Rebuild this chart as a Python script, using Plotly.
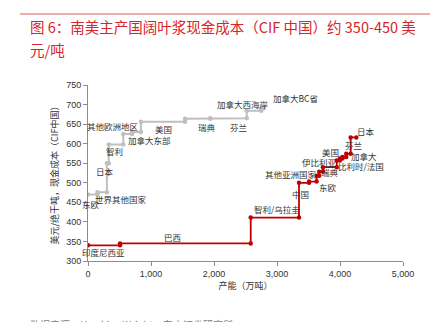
import numpy as np
import plotly.graph_objects as go

# 针叶浆（灰）与阔叶浆（红）现金成本曲线：按成本由低到高排列的产区、产能（万吨）、现金成本（美元/绝干吨）
softwood_regions = ["东欧", "世界其他国家", "日本", "智利", "加拿大东部", "其他欧洲地区",
                    "美国", "瑞典", "芬兰", "加拿大西海岸", "加拿大BC省"]
softwood_capacity = [150, 150, 30, 230, 140, 140, 700, 400, 580, 230, 40]
softwood_cost = [470, 476, 550, 598, 625, 630, 656, 664, 665, 684, 690]

hardwood_regions = ["印度尼西亚", "巴西", "智利/乌拉圭", "中国", "东欧", "其他亚洲国家", "瑞典",
                    "比利时/法国", "伊比利亚", "美国", "加拿大", "芬兰", "日本"]
hardwood_capacity = [508, 2075, 766, 160, 120, 40, 60, 220, 50, 40, 60, 70, 90]
hardwood_cost = [340, 345, 411, 500, 503, 518, 528, 540, 557, 562, 566, 574, 616]

x_ticks = [0, 1000, 2000, 3000, 4000, 5000]

# 各产区标签的摆放位置（数据坐标）
softwood_label_xy = [(40, 446), (530, 459), (270, 530), (413, 581), (976, 609), (389, 645),
                     (1206, 638), (1881, 643), (2381, 643), (2468, 701), (3302, 718)]
hardwood_label_xy = [(240, 324), (1349, 362), (3000, 433), (3373, 471), (3810, 490), (3222, 522),
                     (3841, 528), (4341, 544), (3667, 554), (3849, 578), (4376, 569), (4222, 597),
                     (4405, 632)]


def step_path(capacity, cost):
    """Turn capacities and costs into the vertices of a stepped cost curve."""
    edges = np.concatenate([[0], np.cumsum(capacity)])
    xs, ys = [], []
    for i, c in enumerate(cost):
        xs += [edges[i], edges[i + 1]]
        ys += [c, c]
    return xs, ys


GREY = "#BFBFBF"
RED = "#C00000"
CJK = "Noto Sans CJK SC"
LATIN = "Liberation Sans"

fig = go.Figure()

sx, sy = step_path(softwood_capacity, softwood_cost)
fig.add_trace(go.Scatter(x=sx, y=sy, mode="lines+markers",
                         line=dict(color=GREY, width=2),
                         marker=dict(color=GREY, size=4.5),
                         hoverinfo="skip", showlegend=False))

hx, hy = step_path(hardwood_capacity, hardwood_cost)
fig.add_trace(go.Scatter(x=hx, y=hy, mode="lines+markers",
                         line=dict(color=RED, width=1.8),
                         marker=dict(color=RED, size=4.5),
                         hoverinfo="skip", showlegend=False))

annotations = []
for name, (lx, ly) in zip(softwood_regions + hardwood_regions,
                          softwood_label_xy + hardwood_label_xy):
    annotations.append(dict(x=lx, y=ly, xref="x", yref="y", text=name, showarrow=False,
                            xanchor="center", yanchor="middle",
                            font=dict(family=CJK, size=8.5, color="#333333")))

fig.update_layout(
    width=435, height=322,
    margin=dict(l=88, r=32, t=85, b=61),
    paper_bgcolor="white", plot_bgcolor="white",
    xaxis=dict(range=[0, 5000], tickvals=x_ticks, tickformat=",",
               showline=True, linecolor="#8C8C8C", linewidth=1,
               ticks="outside", ticklen=4, tickcolor="#8C8C8C",
               showgrid=False, zeroline=False,
               tickfont=dict(family=LATIN, size=9, color="#333333"),
               title=dict(text="产能（万吨）", font=dict(family=CJK, size=9, color="#333333"),
                          standoff=2)),
    yaxis=dict(range=[300, 750], dtick=50,
               showline=True, linecolor="#8C8C8C", linewidth=1,
               ticks="outside", ticklen=4, tickcolor="#8C8C8C",
               showgrid=False, zeroline=False,
               tickfont=dict(family=LATIN, size=9, color="#333333"),
               title=dict(text="美元/绝干吨，现金成本（CIF中国）",
                          font=dict(family=CJK, size=9, color="#333333"), standoff=6)),
    annotations=annotations,
)

# Header/footer placed in pixel terms relative to the plot area
plot_top, plot_h = 85, 176


def paper_y(px):
    return (plot_top + plot_h - px) / plot_h


def paper_x(px):
    return (px - 88) / 315


title_font = dict(family=CJK, size=14.5, color="#D6262B")
fig.add_annotation(x=paper_x(28), y=paper_y(26), xref="paper", yref="paper",
                   text="图 6：南美主产国阔叶浆现金成本（CIF 中国）约 350-450 美",
                   showarrow=False, xanchor="left", yanchor="middle", font=title_font)
fig.add_annotation(x=paper_x(28), y=paper_y(50), xref="paper", yref="paper",
                   text="元/吨", showarrow=False, xanchor="left", yanchor="middle", font=title_font)
fig.add_shape(type="line", xref="paper", yref="paper",
              x0=paper_x(20), x1=paper_x(430), y0=paper_y(14), y1=paper_y(14),
              line=dict(color="#E05A5E", width=1))
fig.add_annotation(x=paper_x(28), y=paper_y(324), xref="paper", yref="paper",
                   text="数据来源：Hawkins Wright，东方证券研究所",
                   showarrow=False, xanchor="left", yanchor="middle",
                   font=dict(family=CJK, size=10, color="#7F7F7F"))

fig.write_html("out.html")
